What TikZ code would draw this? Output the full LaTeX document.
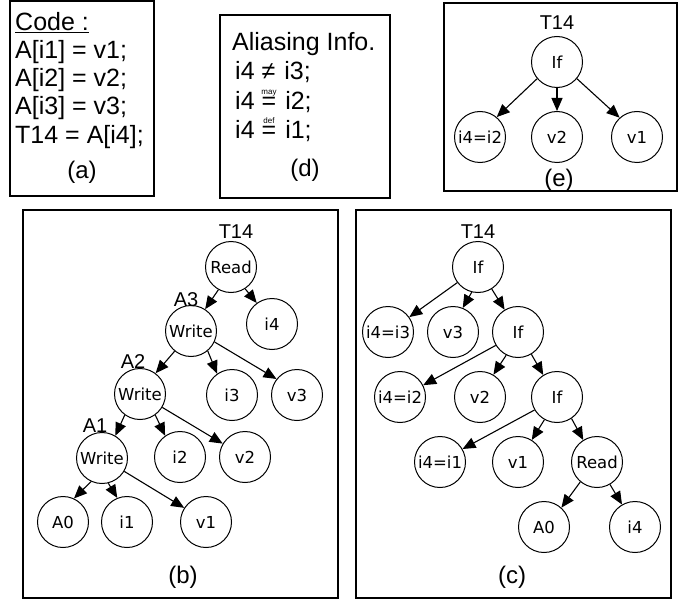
\documentclass[tikz,border=0pt]{standalone}
\usepackage{fontspec}
\setmainfont{Liberation Sans}
\newfontfamily\nodefont{DejaVu Sans}
\usetikzlibrary{arrows.meta}
% small word set over an equals sign of the current size
\newlength\eqwd
\newcommand\wordeq[1]{\settowidth\eqwd{=}%
  \makebox[0pt][l]{\makebox[\eqwd][c]{\raisebox{15pt}[0pt][0pt]{\fontsize{8}{8}\selectfont #1}}}=}
\begin{document}
\begin{tikzpicture}[x=1pt,y=-1pt,
  panel/.style={draw,line width=1.1pt},
  vtx/.style={draw,circle,minimum size=51pt,inner sep=0pt,line width=1pt,
              font=\nodefont\fontsize{16.5}{16.5}\selectfont},
  big/.style={font=\fontsize{25}{25}\selectfont,inner sep=0pt,anchor=base west},
  plabel/.style={font=\fontsize{24}{24}\selectfont,inner sep=0pt},
  tag/.style={font=\fontsize{20}{20}\selectfont,inner sep=0pt},
  edge/.style={line width=1.1pt,-{Triangle[length=13pt,width=11pt]}},
]
\useasboundingbox (0,0) rectangle (692,604);

% ---------- (a) code ----------
\draw[panel] (10,1) rectangle (154,196);
\node[big] (codehd) at (15,31) {\underline{Code :}};
\node[big] (c1) at (15,59) {A[i1] = v1;};
\node[big] (c2) at (15,87) {A[i2] = v2;};
\node[big] (c3) at (15,115) {A[i3] = v3;};
\node[big] (c4) at (15,143) {T14 = A[i4];};
\node[plabel] (capa) at (82,172) {(a)};

% ---------- (d) aliasing info ----------
\draw[panel] (220,15) rectangle (390,198);
\node[big] (alhd) at (232,51) {Aliasing Info.};
\node[big] (al1) at (235,80) {i4\hspace{7pt}≠\hspace{9pt}i3;};
\node[big] (al2) at (235,110) {i4\hspace{7pt}\wordeq{may}\hspace{9pt}i2;};
\node[big] (al3) at (235,139) {i4\hspace{7pt}\wordeq{def}\hspace{9pt}i1;};
\node[plabel] (capd) at (305,170) {(d)};

% ---------- (e) simplified tree ----------
\draw[panel] (444,3) rectangle (677,191);
\node[tag] (et14) at (557,23) {T14};
\node[vtx] (eif) at (557,62) {If};
\node[vtx] (ei42) at (480,137) {i4=i2};
\node[vtx] (ev2) at (557,137) {v2};
\node[vtx] (ev1) at (637,137) {v1};
\node[plabel] (cape) at (559,180) {(e)};
\draw[edge] (eif.-140) -- (ei42.50);
\draw[edge] (eif.-90) -- (ev2.90);
\draw[edge] (eif.-40) -- (ev1.132);

% ---------- (b) read over chained writes ----------
\draw[panel] (23,210) rectangle (338,598);
\node[tag] (bt14) at (236,232) {T14};
\node[vtx] (read) at (231,267) {Read};
\node[tag] (ba3) at (186,300) {A3};
\node[vtx] (w3) at (191,331) {Write};
\node[vtx] (bi4) at (272,324) {i4};
\node[tag] (ba2) at (133,362) {A2};
\node[vtx] (w2) at (140,394) {Write};
\node[vtx] (bi3) at (232,395) {i3};
\node[vtx] (bv3) at (297,395) {v3};
\node[tag] (ba1) at (95,426) {A1};
\node[vtx] (w1) at (102,458) {Write};
\node[vtx] (bi2) at (180,457) {i2};
\node[vtx] (bv2) at (245,457) {v2};
\node[vtx] (ba0) at (63,522) {A0};
\node[vtx] (bi1) at (127,522) {i1};
\node[vtx] (bv1) at (206,522) {v1};
\node[plabel] (capb) at (183,577) {(b)};
\draw[edge] (read.-119) -- (w3.57);
\draw[edge] (read.-57) -- (bi4.126);
\draw[edge] (w3.-129) -- (w2.53);
\draw[edge] (w3.-50) -- (bi3.125);
\draw[edge] (w3.-25) -- (bv3.142);
\draw[edge] (w2.-126) -- (w1.59);
\draw[edge] (w2.-54) -- (bi2.125);
\draw[edge] (w2.-31) -- (bv2.149);
\draw[edge] (w1.-115) -- (ba0.65);
\draw[edge] (w1.-76) -- (bi1.112);
\draw[edge] (w1.-31) -- (bv1.147);

% ---------- (c) nested if tree ----------
\draw[panel] (356,210) rectangle (671,598);
\node[tag] (ct14) at (478,232) {T14};
\node[vtx] (if1) at (478,267) {If};
\node[vtx] (ci43) at (388,332) {i4=i3};
\node[vtx] (cv3) at (453,332) {v3};
\node[vtx] (if2) at (518,332) {If};
\node[vtx] (ci42) at (400,397) {i4=i2};
\node[vtx] (cv2) at (480,397) {v2};
\node[vtx] (if3) at (557,397) {If};
\node[vtx] (ci41) at (440,462) {i4=i1};
\node[vtx] (cv1) at (518,462) {v1};
\node[vtx] (cread) at (597,462) {Read};
\node[vtx] (ca0) at (544,527) {A0};
\node[vtx] (ci4) at (635,527) {i4};
\node[plabel] (capc) at (512,577) {(c)};
\draw[edge] (if1.-143) -- (ci43.35);
\draw[edge] (if1.-104) -- (cv3.68);
\draw[edge] (if1.-58) -- (if2.121);
\draw[edge] (if2.-149) -- (ci42.27);
\draw[edge] (if2.-117) -- (cv2.59);
\draw[edge] (if2.-59) -- (if3.122);
\draw[edge] (if3.-150) -- (ci41.30);
\draw[edge] (if3.-119) -- (cv1.58);
\draw[edge] (if3.-56) -- (cread.122);
\draw[edge] (cread.-130) -- (ca0.48);
\draw[edge] (cread.-60) -- (ci4.120);
\end{tikzpicture}
\end{document}
